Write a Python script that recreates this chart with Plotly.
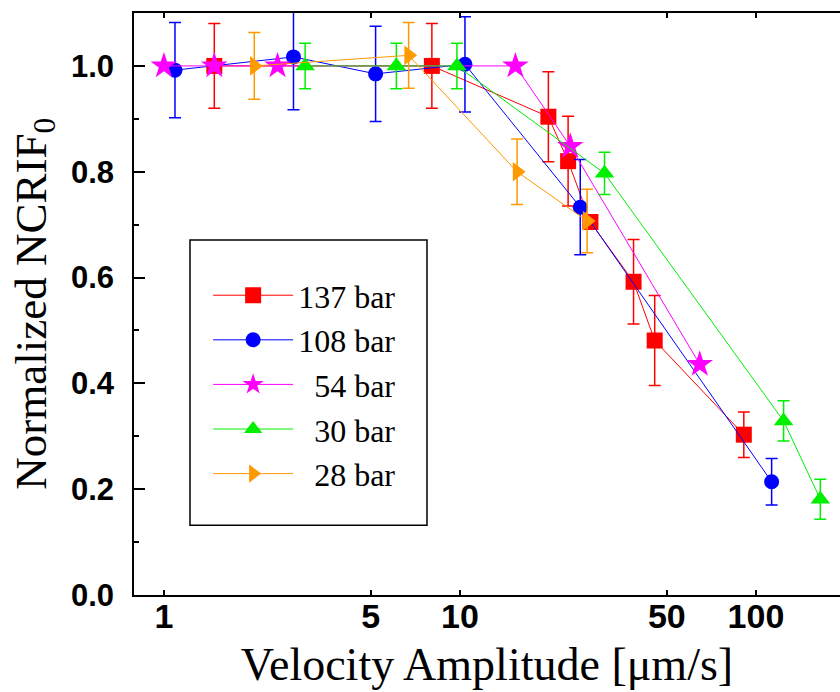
import plotly.graph_objects as go

# ---- data ----
series_names = ["137 bar", "108 bar", "\u00a0\u00a054 bar", "\u00a0\u00a030 bar", "\u00a0\u00a028 bar"]

x_137 = [1.48, 8.04, 19.9, 23.2, 27.6, 38.6, 45.5, 91]
y_137 = [1.0, 1.0, 0.904, 0.82, 0.705, 0.592, 0.481, 0.303]
e_137 = [0.08, 0.08, 0.085, 0.085, 0.0, 0.08, 0.085, 0.043]

x_108 = [1.09, 2.74, 5.19, 10.4, 25.5, 113]
y_108 = [0.992, 1.017, 0.985, 1.003, 0.733, 0.214]
e_108 = [0.09, 0.1, 0.09, 0.09, 0.09, 0.044]

x_54 = [1.0, 1.48, 2.42, 15.4, 23.6, 64.6]
y_54 = [1.0, 1.0, 1.0, 1.0, 0.848, 0.436]

x_30 = [3.0, 6.1, 9.77, 30.8, 124, 165]
y_30 = [1.0, 1.0, 1.0, 0.797, 0.329, 0.181]
e_30 = [0.043, 0.043, 0.043, 0.04, 0.038, 0.038]

x_28 = [2.02, 6.71, 15.6, 26.9]
y_28 = [1.0, 1.02, 0.80, 0.707]
e_28 = [0.063, 0.062, 0.062, 0.06]

x_tickvals = [1, 5, 10, 50, 100]
x_ticktext = ["1", "5", "10", "50", "100"]
x_decades = [1, 10, 100]
y_tickvals = [0.0, 0.2, 0.4, 0.6, 0.8, 1.0]
y_ticktext = ["0.0", "0.2", "0.4", "0.6", "0.8", "1.0"]

x_title = "Velocity Amplitude [\u03bcm/s]"
y_title = "Normalized NCRIF<sub>0</sub>"

RED, BLUE, MAG, GREEN, ORANGE = "#FF0000", "#0000FF", "#FF00FF", "#00F000", "#FF9900"
SERIF = "Liberation Serif, Times New Roman, serif"
SANS = "Liberation Sans, Arial, sans-serif"

fig = go.Figure()


def add(x, y, err, name, color, symbol, size):
    kw = {}
    if err is not None:
        kw["error_y"] = dict(type="data", array=err, visible=True, color=color,
                             thickness=1.5, width=6)
    fig.add_trace(go.Scatter(
        x=x, y=y, name=name, mode="lines+markers",
        line=dict(color=color, width=1),
        marker=dict(color=color, symbol=symbol, size=size, line=dict(width=0)),
        **kw))


add(x_137, y_137, e_137, series_names[0], RED, "square", 16)
add(x_108, y_108, e_108, series_names[1], BLUE, "circle", 15)
add(x_54, y_54, None, series_names[2], MAG, "star", 20)
add(x_30, y_30, e_30, series_names[3], GREEN, "triangle-up", 17)
add(x_28, y_28, e_28, series_names[4], ORANGE, "triangle-right", 17)

xr = [-0.101, 2.284]
fig.update_layout(
    width=840, height=692,
    margin=dict(l=134, r=0, t=13, b=97),
    paper_bgcolor="white", plot_bgcolor="white",
    showlegend=True,
    legend=dict(
        x=0.105, y=0.562, xanchor="left", yanchor="top",
        bgcolor="rgba(0,0,0,0)", borderwidth=0,
        font=dict(family=SERIF, size=32, color="black"),
        itemwidth=80, tracegroupgap=0,
    ),
    xaxis=dict(
        type="log", range=xr,
        tickvals=x_tickvals, ticktext=x_ticktext,
        ticks="inside", ticklen=5, tickwidth=1.5, tickcolor="black",
        showline=True, linewidth=1.5, linecolor="black", mirror="ticks",
        showgrid=False, zeroline=False,
        tickfont=dict(family=SANS, size=34, color="black", weight="bold"),
        ticklabelstandoff=-10,
        title=dict(text=x_title, standoff=14,
                   font=dict(family=SERIF, size=46, color="black")),
    ),
    xaxis2=dict(
        type="log", range=xr, overlaying="x", anchor="y",
        tickvals=x_decades, showticklabels=False,
        ticks="inside", ticklen=10, tickwidth=1.5, tickcolor="black",
        showline=False, mirror="ticks", showgrid=False, zeroline=False,
    ),
    yaxis=dict(
        range=[0, 1.1],
        tickvals=y_tickvals, ticktext=y_ticktext,
        ticks="inside", ticklen=11, tickwidth=1.5, tickcolor="black",
        minor=dict(dtick=0.1, ticks="inside", ticklen=5, tickwidth=1.5, tickcolor="black"),
        showline=True, linewidth=1.5, linecolor="black", mirror=False,
        showgrid=False, zeroline=False,
        tickfont=dict(family=SANS, size=31, color="black", weight="bold"),
        ticklabelstandoff=12,
    ),
    annotations=[dict(text=y_title, xref="paper", yref="paper", x=-0.142, y=0.5,
                      xanchor="center", yanchor="middle", textangle=-90, showarrow=False,
                      font=dict(family=SERIF, size=45, color="black"))],
    shapes=[dict(type="rect", xref="paper", yref="paper",
                 x0=0.0793, x1=0.415, y0=0.12, y1=0.61,
                 line=dict(color="black", width=1.5), fillcolor="rgba(0,0,0,0)")],
)

fig.write_html("out.html")
